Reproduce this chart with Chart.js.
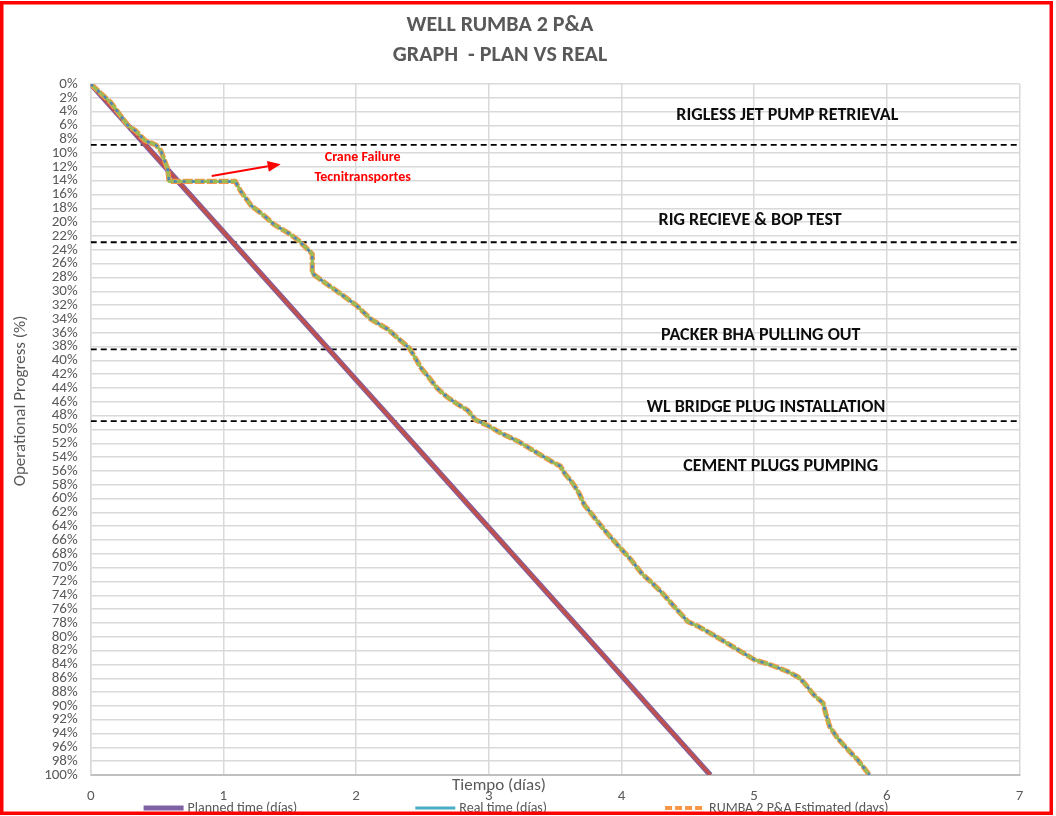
<!DOCTYPE html>
<html><head><meta charset="utf-8">
<script src="https://cdn.jsdelivr.net/npm/chart.js@4.4.1/dist/chart.umd.min.js"></script>
<style>html,body{margin:0;padding:0;background:#fff;}canvas{display:block;}</style>
</head><body>
<canvas id="c" width="1056" height="816"></canvas>
<script>
// ---------- DATA ----------
const xTicks = [0, 1, 2, 3, 4, 5, 6, 7];
const plannedDays     = [0, 0.50, 1.00, 1.50, 2.00, 2.50, 3.00, 3.50, 4.00, 4.30, 4.67];
const plannedProgress = [0, 10.7, 21.4, 32.1, 42.8, 53.5, 64.2, 74.9, 85.6, 92.1, 100];
const realDays = [0, 0.15, 0.28, 0.34, 0.41, 0.49, 0.53, 0.58, 0.59, 1.09, 1.13, 1.21, 1.31, 1.38, 1.50, 1.57, 1.67, 1.67, 1.71, 1.85, 2.00, 2.11, 2.24, 2.31, 2.40, 2.43, 2.49, 2.55, 2.61, 2.68, 2.77, 2.84, 2.90, 2.99, 3.09, 3.22, 3.34, 3.48, 3.54, 3.57, 3.63, 3.68, 3.72, 3.77, 3.87, 3.97, 4.07, 4.16, 4.22, 4.31, 4.42, 4.50, 4.58, 4.69, 4.88, 5.00, 5.13, 5.25, 5.33, 5.37, 5.45, 5.52, 5.54, 5.57, 5.63, 5.71, 5.78, 5.87];
const realProgress = [0, 2.65, 6.0, 6.8, 8.2, 8.8, 9.7, 12.3, 14.1, 14.1, 15.5, 17.6, 19.1, 20.3, 21.7, 22.7, 24.6, 27.4, 28.0, 29.9, 32.0, 34.0, 35.5, 36.7, 38.2, 39.1, 41.1, 42.5, 44.0, 45.2, 46.4, 47.2, 48.6, 49.4, 50.5, 51.7, 53.1, 54.7, 55.3, 56.3, 57.7, 59.2, 60.9, 62.1, 64.5, 66.7, 68.8, 71.0, 72.0, 73.7, 76.1, 77.8, 78.5, 79.7, 81.9, 83.3, 84.1, 85.0, 85.8, 86.5, 88.4, 89.6, 91.1, 93.0, 94.7, 96.4, 97.8, 100];
const phaseBoundaries = [8.8, 22.9, 38.4, 48.8];
const phaseNames = ['RIGLESS JET PUMP RETRIEVAL', 'RIG RECIEVE & BOP TEST', 'PACKER BHA PULLING OUT', 'WL BRIDGE PLUG INSTALLATION', 'CEMENT PLUGS PUMPING'];
const titleLines = ['WELL RUMBA 2 P&A', 'GRAPH  - PLAN VS REAL'];
const craneNote = ['Crane Failure', 'Tecnitransportes'];
const xTitle = 'Tiempo (días)';
const yTitle = 'Operational Progress (%)';

// ---------- STYLE / LAYOUT ----------
const FONT = "Carlito, 'Liberation Sans Narrow', 'Arial Narrow', 'Liberation Sans', sans-serif";
Chart.defaults.font.family = FONT;
const phaseLabelAt = [[5.25, 4.6], [4.97, 19.8], [5.05, 36.4], [5.09, 46.8], [5.20, 55.3]];
const craneAt = [[2.05, 10.7], [2.05, 13.6]];
const arrowFrom = [0.912, 13.3], arrowTo = [1.432, 11.6];

const pts = (xs, ys) => xs.map((x, i) => ({x: x, y: ys[i]}));
const base = {pointRadius: 0, pointHoverRadius: 0, tension: 0, fill: false, borderCapStyle: 'butt', borderJoinStyle: 'round'};

const datasets = [
  Object.assign({label: 'Real time (días)', data: pts(realDays, realProgress), borderColor: '#4F81BD', borderWidth: 2.5, borderDash: [3, 6], order: 1, legendColor: '#4BACC6', legendDash: [], legendWidth: 3}, base),
  Object.assign({label: '', data: pts(realDays, realProgress), borderColor: '#9BBB59', borderWidth: 3.2, order: 2}, base),
  Object.assign({label: 'RUMBA 2 P&A Estimated (days)', data: pts(realDays, realProgress), borderColor: '#F79646', borderWidth: 5.2, borderDash: [10, 2], order: 3, legendColor: '#F79646', legendDash: [7, 3], legendWidth: 4}, base),
  Object.assign({label: '', data: pts(plannedDays, plannedProgress), borderColor: '#C0504D', borderWidth: 3.3, order: 4}, base),
  Object.assign({label: 'Planned time (días)', data: pts(plannedDays, plannedProgress), borderColor: '#7F62A3', borderWidth: 5.5, order: 5, legendColor: '#7F62A3', legendDash: [], legendWidth: 5}, base)
].concat(phaseBoundaries.map(p => Object.assign({label: '', data: [{x: 0, y: p}, {x: 7, y: p}], borderColor: '#000', borderWidth: 1.8, borderDash: [6, 4], order: 6}, base)));

const legendOrder = ['Planned time (días)', 'Real time (días)', 'RUMBA 2 P&A Estimated (days)'];

const overlay = {
  id: 'overlay',
  afterDraw(chart) {
    const ctx = chart.ctx, xs = chart.scales.x, ys = chart.scales.y;
    const px = v => xs.getPixelForValue(v), py = v => ys.getPixelForValue(v);
    ctx.save();
    ctx.textAlign = 'center'; ctx.textBaseline = 'middle';
    // title
    ctx.fillStyle = '#595959';
    ctx.font = 'bold 22px ' + FONT;
    ctx.fillText(titleLines[0], 500, 25);
    ctx.fillText(titleLines[1], 500, 55);
    // phase labels
    ctx.fillStyle = '#0D0D0D';
    ctx.font = 'bold 18px ' + FONT;
    phaseNames.forEach((t, i) => ctx.fillText(t, px(phaseLabelAt[i][0]), py(phaseLabelAt[i][1])));
    // crane note
    ctx.fillStyle = '#FF0000';
    ctx.font = 'bold 14px ' + FONT;
    craneNote.forEach((t, i) => ctx.fillText(t, px(craneAt[i][0]), py(craneAt[i][1])));
    // arrow
    const x1 = px(arrowFrom[0]), y1 = py(arrowFrom[1]), x2 = px(arrowTo[0]), y2 = py(arrowTo[1]);
    const ang = Math.atan2(y2 - y1, x2 - x1), hl = 13, hw = 5.5;
    ctx.strokeStyle = '#FF0000'; ctx.lineWidth = 2;
    ctx.beginPath(); ctx.moveTo(x1, y1);
    ctx.lineTo(x2 - hl * Math.cos(ang), y2 - hl * Math.sin(ang)); ctx.stroke();
    ctx.beginPath();
    ctx.moveTo(x2, y2);
    ctx.lineTo(x2 - hl * Math.cos(ang) + hw * Math.sin(ang), y2 - hl * Math.sin(ang) - hw * Math.cos(ang));
    ctx.lineTo(x2 - hl * Math.cos(ang) - hw * Math.sin(ang), y2 - hl * Math.sin(ang) + hw * Math.cos(ang));
    ctx.closePath(); ctx.fillStyle = '#FF0000'; ctx.fill();
    // axis titles
    ctx.fillStyle = '#595959';
    ctx.font = '17px ' + FONT;
    ctx.fillText(xTitle, 499, 786);
    ctx.save(); ctx.translate(21, 401); ctx.rotate(-Math.PI / 2); ctx.fillText(yTitle, 0, 0); ctx.restore();
    // legend
    ctx.font = '14px ' + FONT;
    const items = legendOrder.map(l => chart.data.datasets.find(d => d.label === l));
    const sw = 40, sg = 4, gap = 118;
    const widths = items.map(d => sw + sg + ctx.measureText(d.label).width);
    const total = widths.reduce((a, b) => a + b, 0) + gap * (items.length - 1);
    let lx = 516 - total / 2; const ly = 808;
    items.forEach((d, i) => {
      ctx.strokeStyle = d.legendColor; ctx.lineWidth = d.legendWidth; ctx.setLineDash(d.legendDash);
      ctx.beginPath(); ctx.moveTo(lx, ly); ctx.lineTo(lx + sw, ly); ctx.stroke();
      ctx.setLineDash([]);
      ctx.textAlign = 'left'; ctx.fillStyle = '#595959';
      ctx.fillText(d.label, lx + sw + sg, ly);
      lx += widths[i] + gap;
    });
    // outer border
    ctx.strokeStyle = '#FF0000'; ctx.lineWidth = 3.5;
    ctx.strokeRect(1.75, 2.75, 1049.5, 810.5);
    ctx.restore();
  }
};

new Chart(document.getElementById('c'), {
  type: 'line',
  data: {datasets: datasets},
  options: {
    responsive: false, animation: false, devicePixelRatio: 1,
    layout: {padding: {top: 84, right: 36.5, left: 0, bottom: 0}},
    plugins: {legend: {display: false}, title: {display: false}, tooltip: {enabled: false}},
    scales: {
      x: {
        type: 'linear', min: 0, max: 7,
        afterBuildTicks: s => { s.ticks = xTicks.map(v => ({value: v})); },
        ticks: {color: '#595959', font: {size: 15}, padding: 12},
        grid: {color: '#D9D9D9', lineWidth: 1.5, drawTicks: false},
        border: {color: '#BFBFBF', width: 2},
        afterFit: s => { s.height = 41; }
      },
      y: {
        type: 'linear', reverse: true, min: 0, max: 100,
        ticks: {stepSize: 2, autoSkip: false, color: '#595959', font: {size: 15, lineHeight: 1}, padding: 13, callback: v => v + '%'},
        grid: {color: '#D9D9D9', lineWidth: 1.5, drawTicks: false},
        border: {color: '#D9D9D9', width: 1.5},
        afterFit: s => { s.width = 90.7; }
      }
    }
  },
  plugins: [overlay]
});
</script>
</body></html>
